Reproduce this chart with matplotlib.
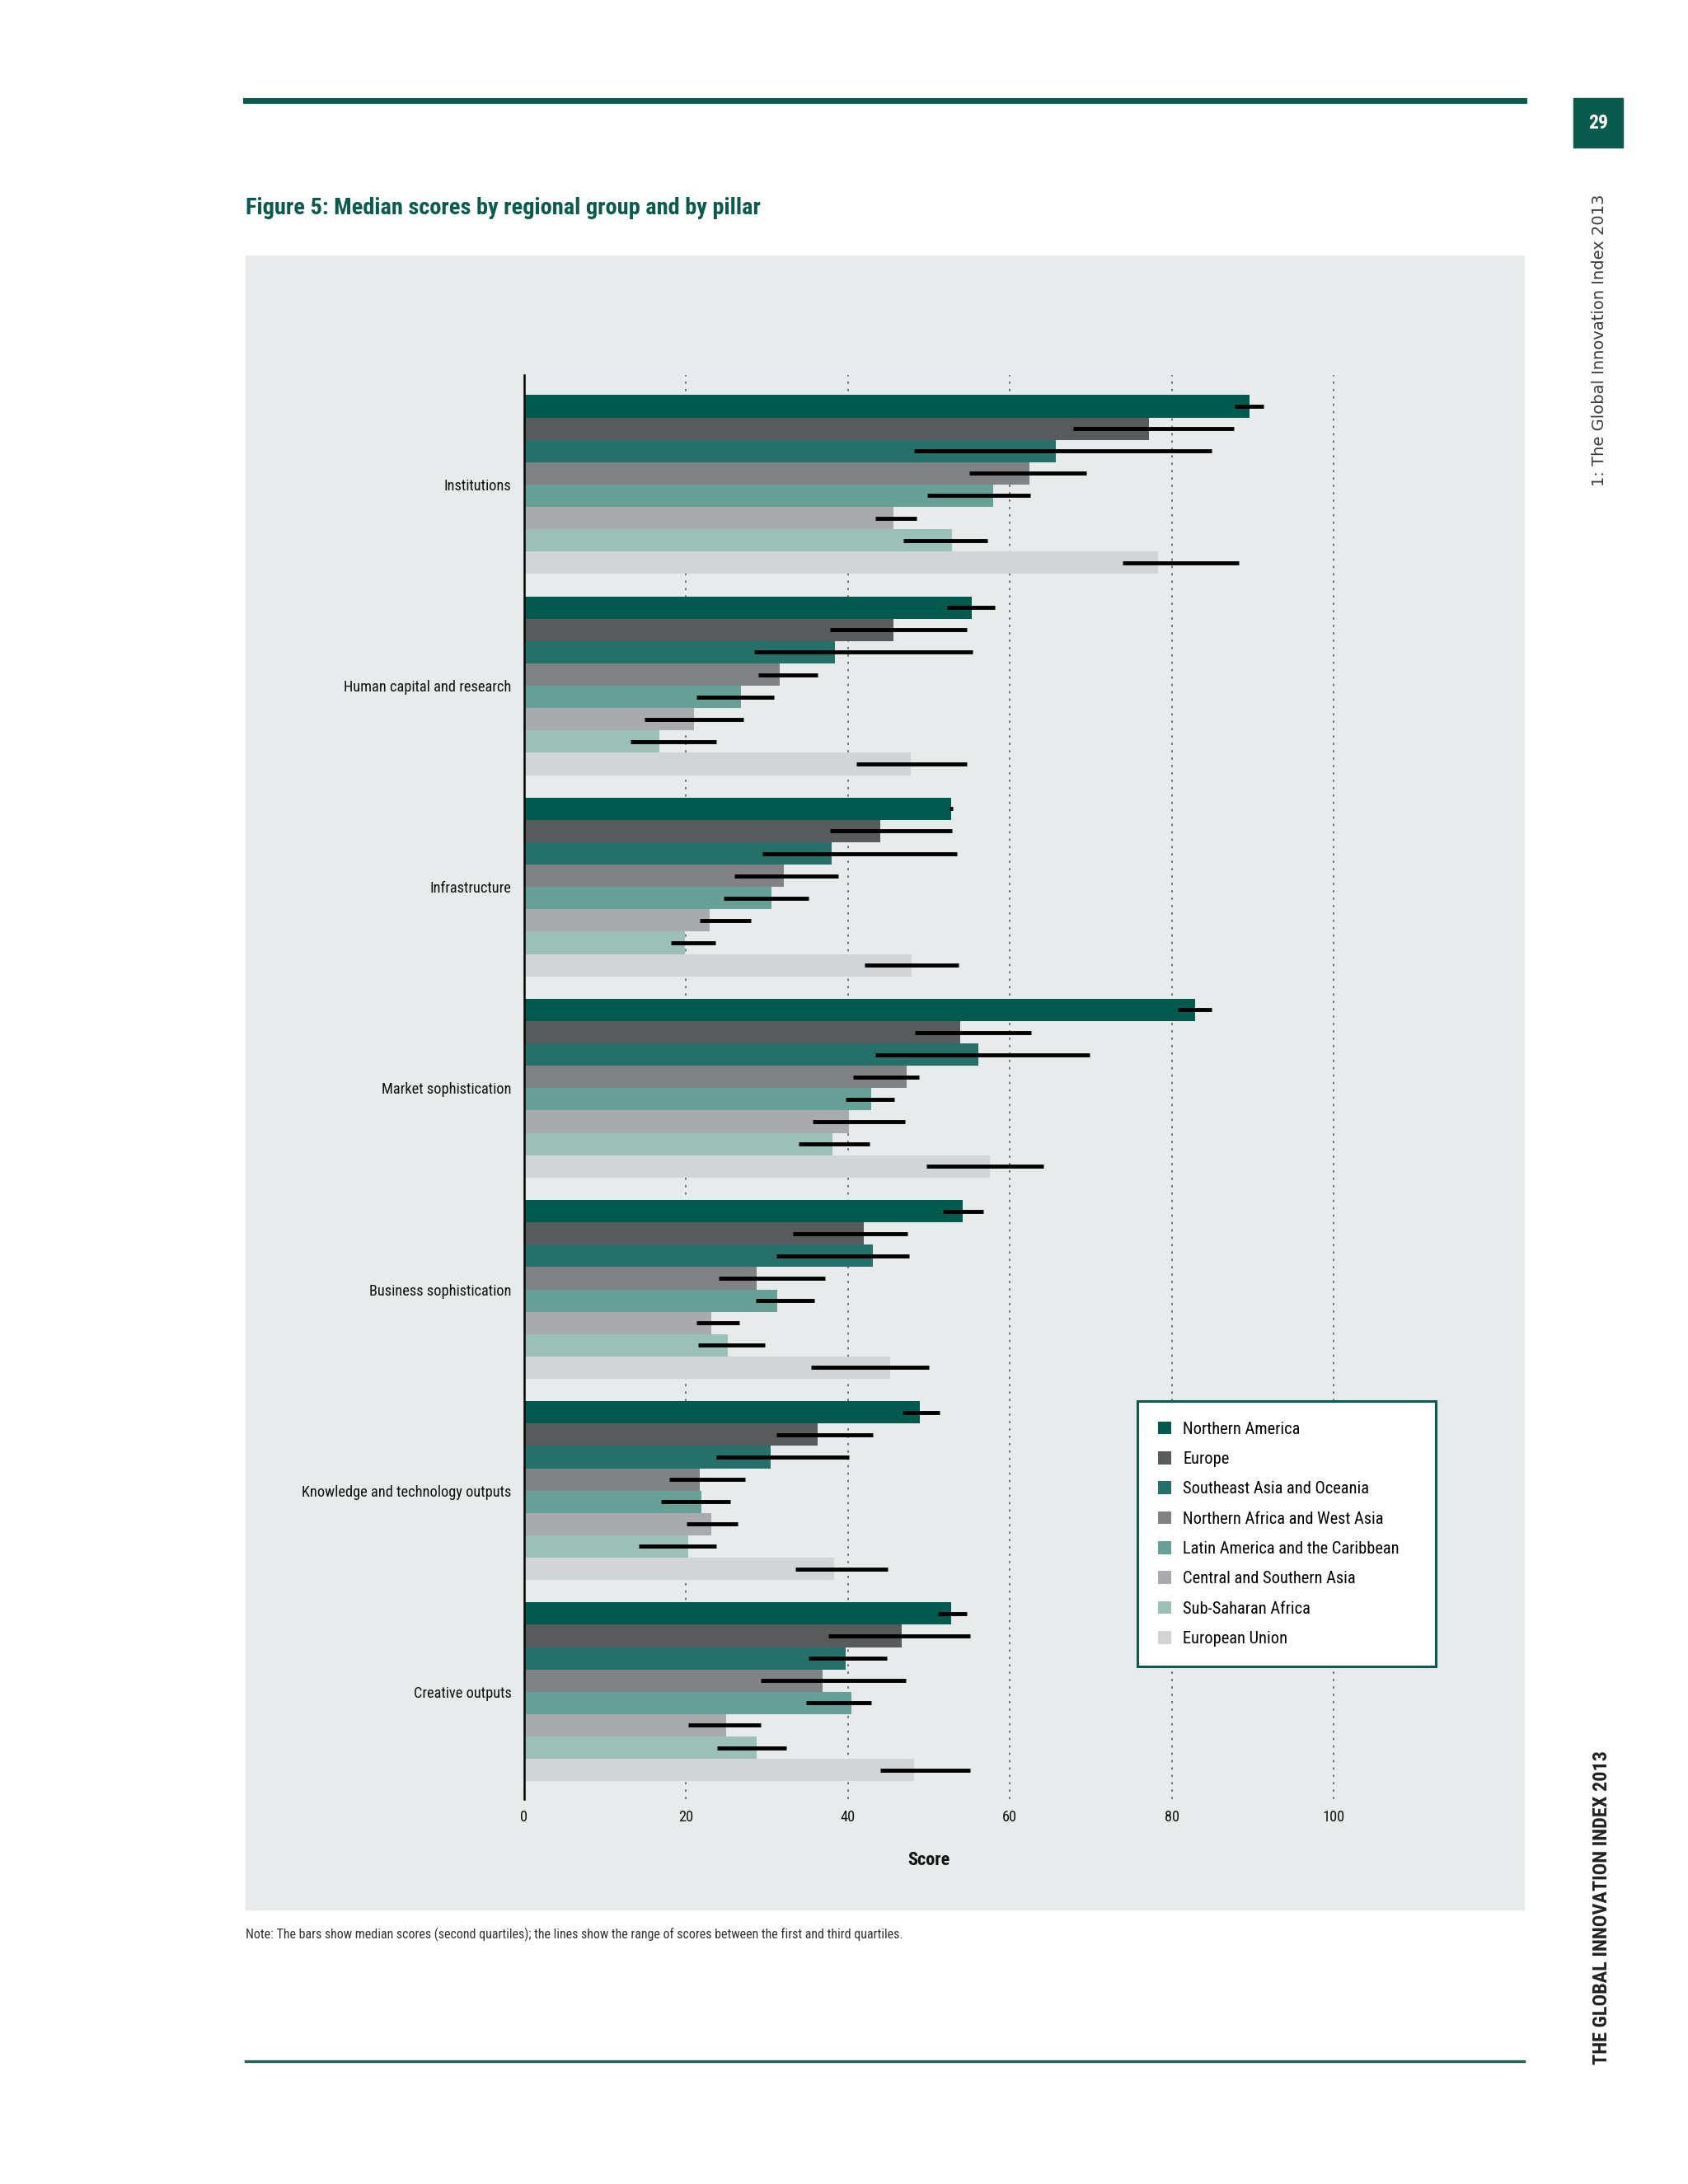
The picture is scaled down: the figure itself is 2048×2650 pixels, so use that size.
import numpy as np
import matplotlib
matplotlib.use("Agg")
import matplotlib.pyplot as plt
import matplotlib.transforms as mtransforms
from matplotlib import font_manager as fm
from matplotlib.patches import Patch, Rectangle
from matplotlib.lines import Line2D

# the original uses a condensed face; take a narrow one if the machine has it
names = {f.name for f in fm.fontManager.ttflist}
narrow = 'Liberation Sans'
for n in ['Liberation Sans Narrow', 'Roboto Condensed', 'Open Sans Condensed',
          'DejaVu Sans Condensed']:
    if n in names:
        narrow = n
        break
plt.rcParams['font.family'] = [narrow, 'DejaVu Sans']

pillars = ['Institutions', 'Human capital and research', 'Infrastructure',
           'Market sophistication', 'Business sophistication',
           'Knowledge and technology outputs', 'Creative outputs']
regions = ['Northern America', 'Europe', 'Southeast Asia and Oceania',
           'Northern Africa and West Asia', 'Latin America and the Caribbean',
           'Central and Southern Asia', 'Sub-Saharan Africa', 'European Union']
colors = ['#005a4e', '#575b5b', '#25716a', '#808285', '#66a096',
          '#a8aaad', '#9bc0b7', '#d2d5d7']

# median scores, one row per pillar, one column per region
median = [
    [89.6, 77.2, 65.7, 62.4, 57.9, 45.6, 52.9, 78.3],
    [55.3, 45.6, 38.4, 31.6, 26.8, 21.0, 16.7, 47.8],
    [52.8, 44.0, 38.0, 32.1, 30.5, 22.9, 19.9, 47.9],
    [82.9, 53.9, 56.1, 47.3, 42.9, 40.1, 38.1, 57.5],
    [54.2, 42.0, 43.1, 28.7, 31.3, 23.1, 25.2, 45.2],
    [48.9, 36.3, 30.4, 21.7, 21.9, 23.1, 20.3, 38.3],
    [52.8, 46.6, 39.7, 36.9, 40.4, 24.9, 28.7, 48.2],
]
# first quartile
q1 = [
    [87.8, 67.8, 48.2, 55.0, 49.8, 43.4, 46.8, 73.9],
    [52.2, 37.8, 28.4, 28.9, 21.3, 14.9, 13.1, 41.0],
    [52.5, 37.8, 29.4, 26.0, 24.6, 21.7, 18.1, 42.1],
    [80.8, 48.3, 43.4, 40.6, 39.7, 35.6, 33.9, 49.7],
    [51.7, 33.2, 31.2, 24.0, 28.6, 21.3, 21.5, 35.4],
    [46.7, 31.2, 23.7, 17.9, 16.9, 20.1, 14.2, 33.5],
    [51.1, 37.6, 35.1, 29.2, 34.8, 20.3, 23.8, 44.0],
]
# third quartile
q3 = [
    [91.3, 87.7, 84.9, 69.5, 62.5, 48.5, 57.2, 88.3],
    [58.1, 54.7, 55.4, 36.3, 30.9, 27.1, 23.7, 54.7],
    [53.0, 52.9, 53.5, 38.8, 35.1, 28.0, 23.6, 53.7],
    [84.9, 62.6, 69.9, 48.8, 45.7, 47.0, 42.7, 64.2],
    [56.7, 47.4, 47.6, 37.2, 35.8, 26.6, 29.7, 50.0],
    [51.3, 43.1, 40.1, 27.3, 25.5, 26.4, 23.7, 44.9],
    [54.7, 55.1, 44.8, 47.1, 42.9, 29.2, 32.4, 55.1],
]
xticks = [0, 20, 40, 60, 80, 100]

fs_title = 20.4
fs_lab = 13.2
fs_leg = 14.7
fs_note = 11.5

W, H = 2048, 2650
fig = plt.figure(figsize=(W / 100, H / 100), dpi=100)
fig.patch.set_facecolor('white')

green = '#0a5a4e'

def fx(px):
    return px / W

def fy(py):
    return 1 - py / H

# page decoration
fig.add_artist(Line2D([fx(298), fx(1849)], [fy(122), fy(122)], color=green, lw=5))
fig.add_artist(Line2D([fx(298), fx(1849)], [fy(2501), fy(2501)], color='#1d5f54', lw=2.4))
fig.add_artist(Rectangle((fx(1909), fy(179)), fx(60), 60 / H, color='#0b5a4e'))
fig.text(fx(1939), fy(149), '29', color='white', fontsize=17, fontweight='bold',
         ha='center', va='center')
fig.text(fx(1941), fy(413), '1: The Global Innovation Index 2013', rotation=90,
         family='DejaVu Sans', fontsize=14, color='#3a3a3a', ha='center', va='center')
fig.text(fx(1943), fy(2315), 'THE GLOBAL INNOVATION INDEX 2013', rotation=90,
         fontsize=17.5, fontweight='bold', color='#222222', ha='center', va='center')
fig.text(fx(298), fy(253), 'Figure 5: Median scores by regional group and by pillar',
         fontsize=fs_title, fontweight='bold', color=green, ha='left', va='center')
fig.add_artist(Rectangle((fx(298), fy(2317)), fx(1849 - 298), (2317 - 310) / H,
                         color='#e7ebeb', zorder=-5))
fig.text(fx(298), fy(2347), 'Note: The bars show median scores (second quartiles); '
         'the lines show the range of scores between the first and third quartiles.',
         fontsize=fs_note, color='#333333', ha='left', va='center')

# chart axes
ax_left, ax_right = 636, 1849
ax_top, ax_bottom = 455, 2183
ax = fig.add_axes([fx(ax_left), fy(ax_bottom), fx(ax_right - ax_left),
                   (ax_bottom - ax_top) / H])
ax.patch.set_alpha(0)
unit = (1618 - 636) / 100
ax.set_xlim(0, (ax_right - ax_left) / unit)

n_reg = len(regions)
pitch = n_reg + 1
ax.set_ylim(62.8, -0.9)

for g in range(len(pillars)):
    for r in range(n_reg):
        yc = g * pitch + r + 0.5
        ax.barh(yc, median[g][r], height=1.0, color=colors[r], zorder=2, linewidth=0)
        ax.hlines(yc, q1[g][r], q3[g][r], color='black', lw=3.5, zorder=3)

for v in xticks[1:]:
    ax.axvline(v, color='#6f7272', lw=1.4, linestyle=(0, (1.4, 3.2)), zorder=1)

ax.set_yticks([g * pitch + n_reg / 2 for g in range(len(pillars))])
ax.set_yticklabels(pillars, fontsize=fs_lab, color='#111111')
ax.set_xticks(xticks)
ax.set_xticklabels([str(v) for v in xticks], fontsize=fs_lab, color='#111111')
ax.tick_params(axis='both', length=0)
ax.tick_params(axis='y', pad=11)
ax.tick_params(axis='x', pad=9)
for s in ['top', 'right', 'bottom']:
    ax.spines[s].set_visible(False)
ax.spines['left'].set_linewidth(1.8)
ax.spines['left'].set_color('black')
ax.spines['left'].set_zorder(4)

score_tr = mtransforms.blended_transform_factory(ax.transData, fig.transFigure)
ax.text(50, fy(2257), 'Score', transform=score_tr, fontsize=16,
        fontweight='bold', ha='center', va='center', color='#111111')

handles = [Patch(facecolor=c, edgecolor='none', label=l) for c, l in zip(colors, regions)]
leg = ax.legend(handles=handles, loc='upper left', mode='expand',
                bbox_to_anchor=(fx(1380), fy(2024), fx(1742 - 1380), (2024 - 1700) / H),
                bbox_transform=fig.transFigure,
                fontsize=fs_leg, frameon=True, fancybox=False, borderpad=1.2,
                borderaxespad=0, handlelength=0.8, handleheight=0.8,
                handletextpad=0.7, labelspacing=0.85)
leg.get_frame().set_edgecolor('#0b5a4e')
leg.get_frame().set_linewidth(2.2)
leg.get_frame().set_facecolor('white')
leg.get_frame().set_alpha(1)
leg.set_zorder(10)

fig.savefig('out.png', dpi=100, facecolor='white')
